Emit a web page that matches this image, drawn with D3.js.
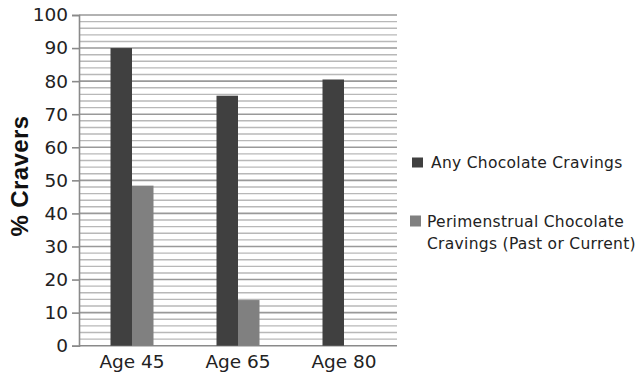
<!DOCTYPE html>
<html><head><meta charset="utf-8">
<script src="https://cdn.jsdelivr.net/npm/d3@7"></script>
<style>body{margin:0;background:#fff}svg{display:block}</style>
</head><body>
<svg id="c" width="639" height="380"></svg>
<script>
const categories = ["Age 45", "Age 65", "Age 80"];
const seriesNames = ["Any Chocolate Cravings", "Perimenstrual Chocolate Cravings (Past or Current)"];
const anyCravings = [90, 75.6, 80.5];
const perimenstrualCravings = [48.4, 13.8, null];
const yTicks = [0, 10, 20, 30, 40, 50, 60, 70, 80, 90, 100];
const yMinorTicks = d3.range(0, 101, 2);
const yTitle = "% Cravers";

const colors = ["#404040", "#808080"];
const svg = d3.select("#c");
const m = {left: 79, right: 397, top: 15, bottom: 345.7};
const x = d3.scaleBand().domain(categories).range([m.left, m.right]);
const y = d3.scaleLinear().domain([0, 100]).range([m.bottom, m.top]);
const barW = 21.5;

// minor grid
svg.append("g").selectAll("line").data(yMinorTicks.filter(v => v % 10 !== 0)).join("line")
  .attr("x1", m.left).attr("x2", m.right)
  .attr("y1", d => y(d)).attr("y2", d => y(d))
  .attr("stroke", "#b8b8b8").attr("stroke-width", 1.4);
// major grid
svg.append("g").selectAll("line").data(yTicks.filter(v => v > 0)).join("line")
  .attr("x1", m.left).attr("x2", m.right)
  .attr("y1", d => y(d)).attr("y2", d => y(d))
  .attr("stroke", "#999").attr("stroke-width", 1.6);

// axes
const yAxis = d3.axisLeft(y).tickValues(yTicks).tickSize(7).tickPadding(4);
const gy = svg.append("g").attr("transform", `translate(${m.left},0)`).call(yAxis);
gy.select(".domain").attr("stroke", "#8a8a8a").attr("stroke-width", 1.6);
gy.selectAll(".tick line").attr("stroke", "#8a8a8a").attr("stroke-width", 1.6);
gy.selectAll(".tick text").attr("font-family", "DejaVu Sans").attr("font-size", 18.5).attr("fill", "#222");

// baseline
svg.append("line").attr("x1", m.left).attr("x2", m.right)
  .attr("y1", y(0)).attr("y2", y(0)).attr("stroke", "#8a8a8a").attr("stroke-width", 1.6);

const xAxis = d3.axisBottom(x).tickSize(0).tickPadding(9);
const gx = svg.append("g").attr("transform", `translate(0,${m.bottom})`).call(xAxis);
gx.select(".domain").remove();
gx.selectAll(".tick text").attr("font-family", "DejaVu Sans").attr("font-size", 18.5).attr("fill", "#222");

// bars
const series = [anyCravings, perimenstrualCravings];
series.forEach((vals, si) => {
  svg.append("g").selectAll("rect").data(categories.map((c, i) => ({c, v: vals[i]})).filter(d => d.v != null))
    .join("rect")
    .attr("x", d => x(d.c) + x.bandwidth() / 2 - barW + si * barW)
    .attr("width", barW)
    .attr("y", d => y(d.v))
    .attr("height", d => y(0) - y(d.v))
    .attr("fill", colors[si]);
});

// y title
svg.append("text").attr("transform", "translate(27.5,176) rotate(-90)")
  .attr("text-anchor", "middle").attr("font-family", "Liberation Sans")
  .attr("font-weight", "bold").attr("font-size", 24).attr("letter-spacing", 0.4)
  .attr("fill", "#111").text(yTitle);

// legend
const lg = svg.append("g").attr("font-family", "DejaVu Sans").attr("font-size", 15.5)
  .attr("letter-spacing", 0.3).attr("fill", "#222");
lg.append("rect").attr("x", 412).attr("y", 157.5).attr("width", 11).attr("height", 10).attr("fill", colors[0]);
lg.append("text").attr("x", 431).attr("y", 167.5).text(seriesNames[0]);
lg.append("rect").attr("x", 410).attr("y", 215.5).attr("width", 11).attr("height", 11).attr("fill", colors[1]);
const t2 = lg.append("text");
t2.append("tspan").attr("x", 427).attr("y", 226.5).text("Perimenstrual Chocolate");
t2.append("tspan").attr("x", 427).attr("y", 248.5).text("Cravings (Past or Current)");
</script>
</body></html>
